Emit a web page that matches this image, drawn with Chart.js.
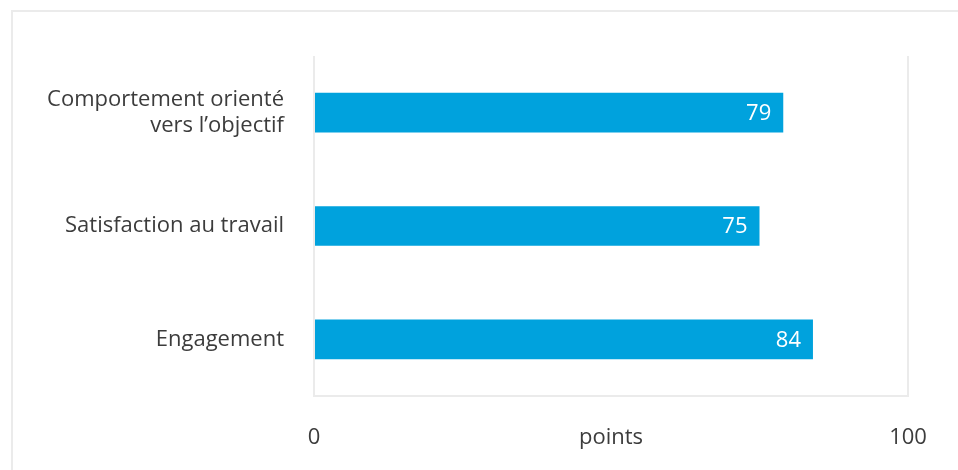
<!DOCTYPE html>
<html>
<head>
<meta charset="utf-8">
<script src="https://cdn.jsdelivr.net/npm/chart.js@4/dist/chart.umd.min.js"></script>
<style>
  html, body { margin: 0; padding: 0; background: #ffffff; overflow: hidden; }
  #frame { position: absolute; left: 11px; top: 10px; width: 1000px; height: 520px; border: 2px solid #ebebeb; box-sizing: border-box; }
  #wrap { position: absolute; left: 0; top: 0; width: 958px; height: 470px; }
</style>
</head>
<body>
<div id="frame"></div>
<div id="wrap"><canvas id="c" width="958" height="470"></canvas></div>
<script>
const categories = [['Comportement orienté', 'vers l’objectif'], 'Satisfaction au travail', 'Engagement'];
const values = [79, 75, 84];
const tickValues = [0, 50, 100];
const tickLabels = ['0', 'points', '100'];

const FONT = "'Open Sans', 'Noto Sans', sans-serif";
const TEXT = '#3c3c3c';
const GRID = '#ebebeb';
const BAR = '#00a2dd';

const valueLabels = {
  id: 'valueLabels',
  afterDatasetsDraw(chart) {
    const ctx = chart.ctx;
    const meta = chart.getDatasetMeta(0);
    ctx.save();
    ctx.fillStyle = '#ffffff';
    ctx.font = '22px ' + FONT;
    ctx.textAlign = 'right';
    ctx.textBaseline = 'middle';
    meta.data.forEach((el, i) => {
      ctx.fillText(String(chart.data.datasets[0].data[i]), el.x - 12, el.y + 1);
    });
    ctx.restore();
  }
};

new Chart(document.getElementById('c'), {
  type: 'bar',
  data: {
    labels: categories,
    datasets: [{
      data: values,
      backgroundColor: BAR,
      borderWidth: 0,
      barPercentage: 0.7,
      categoryPercentage: 0.5
    }]
  },
  options: {
    indexAxis: 'y',
    responsive: false,
    animation: false,
    events: [],
    layout: { padding: { top: 56, right: 50, left: 0, bottom: 0 } },
    plugins: { legend: { display: false }, tooltip: { enabled: false } },
    scales: {
      x: {
        min: 0, max: 100,
        afterBuildTicks(scale) { scale.ticks = tickValues.map(v => ({ value: v })); },
        afterFit(scale) { scale.height = 74; },
        ticks: {
          autoSkip: false,
          maxRotation: 0,
          padding: 29,
          color: TEXT,
          font: { family: FONT, size: 22 },
          callback(value) { const i = tickValues.indexOf(value); return i >= 0 ? tickLabels[i] : ''; }
        },
        grid: {
          drawTicks: false,
          lineWidth: 2,
          color(ctx) { return ctx.tick && ctx.tick.value === 50 ? 'rgba(0,0,0,0)' : GRID; }
        },
        border: { display: true, color: GRID, width: 2 }
      },
      y: {
        afterFit(scale) { scale.width = 314; },
        ticks: {
          padding: 30,
          color: TEXT,
          font: { family: FONT, size: 22, lineHeight: 1.2 }
        },
        grid: { display: false, drawTicks: false },
        border: { display: false }
      }
    }
  },
  plugins: [valueLabels]
});
</script>
</body>
</html>
